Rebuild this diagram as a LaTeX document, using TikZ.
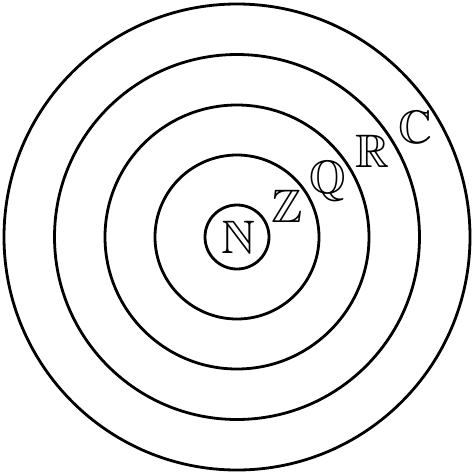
\documentclass[tikz,border=0pt]{standalone}
\usepackage{amssymb}
\begin{document}
\begin{tikzpicture}[x=1pt,y=-1pt,
  ring/.style={draw=black,line width=2.8pt},
  setlabel/.style={inner sep=0pt,anchor=base,font=\fontsize{47}{47}\selectfont}]
\useasboundingbox (0,0) rectangle (474,474);
\coordinate (o) at (237,237);
\draw[ring] (o) circle[radius=32];
\draw[ring] (o) circle[radius=82];
\draw[ring] (o) circle[radius=132];
\draw[ring] (o) circle[radius=182.5];
\draw[ring] (o) circle[radius=233];
\node[setlabel] (N) at (238,253) {$\mathbb{N}$};
\node[setlabel] (Z) at (287,222) {$\mathbb{Z}$};
\node[setlabel] (Q) at (328,193) {$\mathbb{Q}$};
\node[setlabel] (R) at (372,167) {$\mathbb{R}$};
\node[setlabel] (C) at (415,143) {$\mathbb{C}$};
\end{tikzpicture}
\end{document}
